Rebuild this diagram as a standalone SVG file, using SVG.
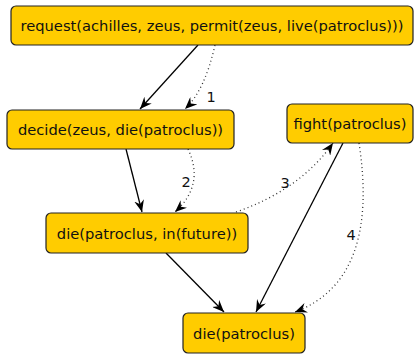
<svg xmlns="http://www.w3.org/2000/svg" width="417" height="354" viewBox="0 0 417 354">
<defs>
<style>
.node rect{fill:#FFCC00;stroke:#222;stroke-width:1.2}
.node text{font-family:"DejaVu Sans",Verdana,sans-serif;font-size:14.7px;fill:#111;text-anchor:middle;dominant-baseline:central}
.e{fill:none;stroke:#000;stroke-width:1.3}
.d{fill:none;stroke:#333;stroke-width:1.3;stroke-dasharray:1 3}
.lbl{font-family:"DejaVu Sans",Verdana,sans-serif;font-size:14.5px;fill:#111;text-anchor:middle}
</style>
<marker id="ah" viewBox="0 0 12 10" refX="12" refY="5" markerWidth="12" markerHeight="10" markerUnits="userSpaceOnUse" orient="auto">
<path d="M0,0 L12,5 L0,10 L4,5 Z" fill="#000"/>
</marker>
</defs>
<g id="connectors">
<path class="e" d="M198,45 L140,109" marker-end="url(#ah)"/>
<path class="d" d="M215,45 Q205,90 185,109" marker-end="url(#ah)"/>
<path class="e" d="M126,149 L142,212" marker-end="url(#ah)"/>
<path class="d" d="M188,149 Q205,185 175,212" marker-end="url(#ah)"/>
<path class="d" d="M236,212 Q300,190 333,143" marker-end="url(#ah)"/>
<path class="e" d="M343,143 L256,312" marker-end="url(#ah)"/>
<path class="d" d="M359,143 Q380,280 295,312" marker-end="url(#ah)"/>
<path class="e" d="M166,253 L224,312" marker-end="url(#ah)"/>
<text class="lbl" x="211" y="102">1</text>
<text class="lbl" x="186" y="187">2</text>
<text class="lbl" x="285" y="188">3</text>
<text class="lbl" x="351" y="240">4</text>
</g>
<g id="n1" class="node"><rect x="11" y="6" width="402" height="39" rx="5"/><text x="212" y="25.5">request(achilles, zeus, permit(zeus, live(patroclus)))</text></g>
<g id="n2" class="node"><rect x="7" y="110" width="227" height="39" rx="5"/><text x="120.5" y="129.5">decide(zeus, die(patroclus))</text></g>
<g id="n3" class="node"><rect x="287" y="104" width="126" height="39" rx="5"/><text x="350" y="123.5">fight(patroclus)</text></g>
<g id="n4" class="node"><rect x="46" y="213" width="202" height="40" rx="5"/><text x="147" y="233">die(patroclus, in(future))</text></g>
<g id="n5" class="node"><rect x="183" y="313" width="122" height="40" rx="5"/><text x="244" y="333">die(patroclus)</text></g>
</svg>
